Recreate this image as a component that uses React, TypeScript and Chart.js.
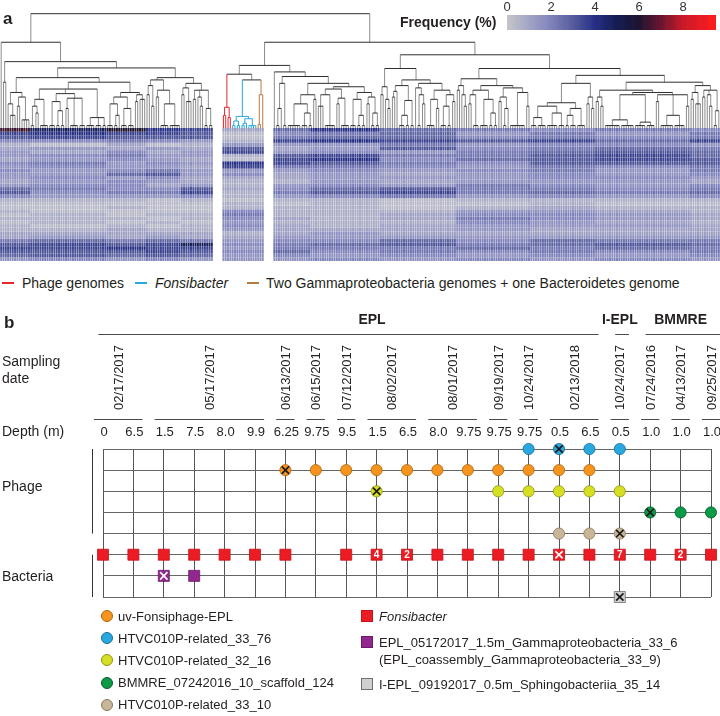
import React, { useEffect, useRef } from 'react';
import { Chart, registerables } from 'chart.js';

Chart.register(...registerables);

const FONT = '"Liberation Sans", Arial, Helvetica, sans-serif';
const INK = '#231f20';

// ================= Panel a : colour scale =================
const colorScaleStops = [0, 1, 2, 3, 4, 5, 6, 7, 8, 9.5];
const colorScaleColors = ['#c6c6ca', '#a3a5c4', '#8083bb', '#565c9c', '#262f85', '#141c52', '#1c1430', '#6a1430', '#c91a28', '#ff1c1c'];
const colorbarTicks = [0, 2, 4, 6, 8];
const colorbarMax = 9.5;
const colorbarStep = 0.1;

// ================= Panel a : dendrogram (merge heights, leaves in order) =================
const redCluster = [19, [12, 1, 1], [10, 1, 1]];
const blueCluster = [11, [7, 2, 2], [9, [5, 2, 1], 4]];
const brownCluster = [30, [4, 1, 1], 1];
const middleBlock = [48, redCluster, [43, blueCluster, brownCluster]];

const leftBlock = [76, 1, [59, [41, 1, 1], [53.5,
  [45,
    [32, [22, 1, [12, 1, 1, 1]], [28, [20, 1, 1], [8, 1, 1, 1, 1]]],
    [41,
      [35, [26, [20, 2, [14, 1, 1]], 4], [31, [24, 3, [16, 2, 2]], [27, [18, 1, 1], 4, 3]], [10, 4, 3, 2]],
      [32, [28, [22, 3, [12, 2, 1]], [18, 3, 3]], [30, [24, 1, 1], [26, 1, 1, 1]]]]],
  [45,
    [43, [38, [30, 1, 1], [20, 1, 1]], [34, [28, 1, 1], [22, 4, 5]]],
    [40, [36, [30, 1, 1], [24, 1, 1, 1]], [34, [26, 1, 1], [28, 1, [20, 1, 1]], [18, 2, 2]]]]]]];

const rightStartBlock = [50, 1, [46, [40, [18, 2, 1], 2],
  [40, [30, [22, 6, [14, 3, 2]], [26, 1, 1]],
    [37, [35, [30, [20, 1, 1, 1], 5], [27, [22, 1, 1], 4]], [32, [26, 3, [12, 2, 2]], [28, [22, 1, 1], [14, 2, 2]]]]]]];
const rightMidBlock = [53, [37, [30, 1, 1], [26, 1, [18, 1, 1]]],
  [43, [38, [33, [28, 1, 1], 1], [25, [12, 3, 2], 2]],
    [40, [36, 1, [30, 2, [22, 1, 1]]], [34, [26, 4, [18, 1, 1]], [30, [20, 3, 2], [24, 1, 1]]]]]];
const rightR1 = [44, [38, [34, 1, 1], [30, 1, [20, 1, 1]]],
  [38, [34, [30, [22, 1, 1], 3], [26, 4, [14, 2, 2]]], [36, [28, [24, 1, 1], [18, 2, 1]], [32, 7, [20, 1, 1]]]]];
const rightR2a = [40, [23, [20, [10, 3, 4], [14, 5, 3]], [18, [12, 2, 3], 4]], [28, [22, 1, 1], [18, 1, 1]]];
const rightR2b1 = [34, [28, [24, 1, 1], [20, 1, 1]],
  [32, [30, [8, 7, 6], [6, 5, 4]], [30, [24, 1, 1], [12, 6, 5], [20, 1, 1]]]];
const rightR2b2 = [38, [32, [26, 1, 1], [22, 1, 1, 1]], [34, [28, 1, 1], [30, 1, [20, 1, 1]], [16, 2, 1]]];
const rightBlockTail = [65, rightMidBlock, [53, rightR1, [47, rightR2a, [41, rightR2b1, rightR2b2]]]];
const dendroRoot = [101, leftBlock, [76, [55.7, middleBlock, rightStartBlock], rightBlockTail]];
const blockStarts = [middleBlock, rightStartBlock];
const blockGap = 4;
const combHeight = 3;
const dendroMaxHeight = 113;
const clusterColors = new Map<any, string>([
  [redCluster, '#e8262d'],
  [blueCluster, '#29a8e0'],
  [brownCluster, '#b57a40'],
]);

// ================= Panel a : heatmap (rows x column groups, base-36 code * 0.4 %) =================
const heatGroupWidths = [[13, 33, 17, 15, 14], [18], [16, 30, 33, 32, 28, 41, 13]];
const heatUnit = 0.4;
const heatRows = [
  'gcfa937a76565', '9a99815674646', '8988816775656', '5565429a98979',
  '2131244464554', '3434383485676', '4353494546787', '4564428966897',
  '3454319a57898', '56454a9865888', '4544396654656', '5456444545646',
  '4478453434545', '4545333444554', '3454322434443', '4553424546545',
  '7655835786656', '8566926896767', '5444524564545', '2221212212222',
  '1111121211211', '1121122212322', '2111152224432', '1212262235543',
  '2221253236543', '1212142225432', '2121253234443', '2232243334333',
  '3333323433333', '3434334444444', '6767645575766', '8989c56786787',
  '99a9946667676', '8889857565656', '7878745454545', '4545444545454',
];

// ================= Panel b : samples =================
const siteNames = ['EPL', 'I-EPL', 'BMMRE'];
const samplesPerSite = [17, 1, 3];
const siteLabelAt = [8.85, 17, 19];
const samplingDates = ['02/17/2017', '05/17/2017', '06/13/2017', '06/15/2017', '07/12/2017', '08/02/2017', '08/01/2017', '09/19/2017', '10/24/2017', '02/13/2018', '10/24/2017', '07/24/2016', '04/13/2017', '09/25/2017'];
const samplesPerDate = [2, 4, 1, 1, 1, 2, 2, 1, 1, 2, 1, 1, 1, 1];
const sampleDepths = ['0', '6.5', '1.5', '7.5', '8.0', '9.9', '6.25', '9.75', '9.5', '1.5', '6.5', '8.0', '9.75', '9.75', '9.75', '0.5', '6.5', '0.5', '1.0', '1.0', '1.0'];

// genome rows (top to bottom) and the samples (column index) where each was found
const htvc3376Found = [14, 15, 16, 17];
const htvc3376Crossed = [15];
const uvFonsiphageFound = [6, 7, 8, 9, 10, 11, 12, 13, 14, 15, 16];
const uvFonsiphageCrossed = [6];
const htvc3216Found = [9, 13, 14, 15, 16, 17];
const htvc3216Crossed = [9];
const bmmreScaffoldFound = [18, 19, 20];
const bmmreScaffoldCrossed = [18];
const htvc3310Found = [15, 16, 17];
const htvc3310Crossed = [17];
const fonsibacterFound = [0, 1, 2, 3, 4, 5, 6, 8, 9, 10, 11, 12, 13, 14, 15, 16, 17, 18, 19, 20];
const fonsibacterCrossed = [15];
const fonsibacterGenomeCounts: [number, string][] = [[9, '4'], [10, '2'], [17, '7'], [19, '2']];
const gammaFound = [2, 3];
const gammaCrossed = [2];
const sphingoFound = [17];
const sphingoCrossed = [17];

const genomeRows = [
  { found: htvc3376Found, crossed: htvc3376Crossed },
  { found: uvFonsiphageFound, crossed: uvFonsiphageCrossed },
  { found: htvc3216Found, crossed: htvc3216Crossed },
  { found: bmmreScaffoldFound, crossed: bmmreScaffoldCrossed },
  { found: htvc3310Found, crossed: htvc3310Crossed },
  { found: fonsibacterFound, crossed: fonsibacterCrossed },
  { found: gammaFound, crossed: gammaCrossed },
  { found: sphingoFound, crossed: sphingoCrossed },
];
const genomeStyles = [
  { fill: '#29a8e0', edge: '#1b6d95', shape: 'circle', cross: '#1a1a1a' },
  { fill: '#f7941d', edge: '#a8650f', shape: 'circle', cross: '#1a1a1a' },
  { fill: '#d7df23', edge: '#8d9218', shape: 'circle', cross: '#1a1a1a' },
  { fill: '#0b9a48', edge: '#075c2b', shape: 'circle', cross: '#1a1a1a' },
  { fill: '#c9b597', edge: '#8a7860', shape: 'circle', cross: '#1a1a1a' },
  { fill: '#ed1c24', edge: '#c4141b', shape: 'rect', cross: '#ffffff' },
  { fill: '#92278f', edge: '#6a1b68', shape: 'rect', cross: '#ffffff' },
  { fill: '#d0d0d0', edge: '#6f6f6f', shape: 'rect', cross: '#1a1a1a' },
];
const phageRowCount = 5;

const phageLegend = [
  { label: 'uv-Fonsiphage-EPL', style: 1 },
  { label: 'HTVC010P-related_33_76', style: 0 },
  { label: 'HTVC010P-related_32_16', style: 2 },
  { label: 'BMMRE_07242016_10_scaffold_124', style: 3 },
  { label: 'HTVC010P-related_33_10', style: 4 },
];
const bacteriaLegend = [
  { lines: ['Fonsibacter'], italic: true, style: 5 },
  { lines: ['EPL_05172017_1.5m_Gammaproteobacteria_33_6', '(EPL_coassembly_Gammaproteobacteria_33_9)'], italic: false, style: 6 },
  { lines: ['I-EPL_09192017_0.5m_Sphingobacteriia_35_14'], italic: false, style: 7 },
];

// ================= helpers =================
function hexRgb(h: string) {
  const n = parseInt(h.slice(1), 16);
  return [(n >> 16) & 255, (n >> 8) & 255, n & 255];
}
function cmap(v: number): string {
  const s = colorScaleStops;
  const c = colorScaleColors;
  if (v <= s[0]) return c[0];
  for (let i = 1; i < s.length; i++) {
    if (v <= s[i]) {
      const t = (v - s[i - 1]) / (s[i] - s[i - 1]);
      const a = hexRgb(c[i - 1]);
      const b = hexRgb(c[i]);
      return `rgb(${Math.round(a[0] + (b[0] - a[0]) * t)},${Math.round(a[1] + (b[1] - a[1]) * t)},${Math.round(a[2] + (b[2] - a[2]) * t)})`;
    }
  }
  return c[c.length - 1];
}

type Seg = { x1: number; y1: number; x2: number; y2: number; color: string | null; kind: 'h' | 'v' };
function layoutTree() {
  const segs: Seg[] = [];
  let next = 0;
  const walk = (node: any, inherited: string | null): { x: number; h: number } => {
    if (typeof node === 'number') {
      if (node === 1) return { x: next++, h: 0 };
      const xs: number[] = [];
      for (let k = 0; k < node; k++) xs.push(next++);
      xs.forEach((x) => segs.push({ x1: x, y1: 0, x2: x, y2: combHeight, color: inherited, kind: 'v' }));
      segs.push({ x1: xs[0], y1: combHeight, x2: xs[xs.length - 1], y2: combHeight, color: inherited, kind: 'h' });
      return { x: (xs[0] + xs[xs.length - 1]) / 2, h: combHeight };
    }
    if (blockStarts.includes(node)) next += blockGap;
    const color = clusterColors.get(node) || inherited;
    const [h, ...kids] = node;
    const res = kids.map((k: any) => walk(k, color));
    kids.forEach((k: any, i: number) => {
      const legColor = (typeof k !== 'number' && clusterColors.get(k)) || color;
      segs.push({ x1: res[i].x, y1: res[i].h, x2: res[i].x, y2: h, color: legColor, kind: 'v' });
    });
    segs.push({ x1: res[0].x, y1: h, x2: res[res.length - 1].x, y2: h, color, kind: 'h' });
    return { x: (res[0].x + res[res.length - 1].x) / 2, h };
  };
  walk(dendroRoot, null);
  return { segs, leafCount: next };
}

function heatColumns() {
  const cols: number[] = [];
  let g = 0;
  heatGroupWidths.forEach((block, bi) => {
    if (bi > 0) for (let k = 0; k < blockGap; k++) cols.push(-1);
    block.forEach((w) => {
      for (let k = 0; k < w; k++) cols.push(g);
      g++;
    });
  });
  return cols;
}

const baseOptions: any = {
  animation: false,
  responsive: false,
  events: [],
  plugins: { legend: { display: false }, tooltip: { enabled: false } },
};

// ================= components =================
function Dendrogram() {
  const ref = useRef<HTMLCanvasElement>(null);
  useEffect(() => {
    const { segs, leafCount } = layoutTree();
    const groups = new Map<string, any[]>();
    segs.forEach((s) => {
      const key = s.kind + '|' + (s.color || '');
      if (!groups.has(key)) groups.set(key, []);
      groups.get(key)!.push({ x: s.x1, y: s.y1 }, { x: s.x2, y: s.y2 }, { x: NaN, y: NaN });
    });
    const datasets = [...groups.entries()].map(([key, data]) => {
      const [kind, color] = key.split('|');
      return {
        data,
        showLine: true,
        spanGaps: false,
        borderColor: color || (kind === 'h' ? '#2e2e2e' : '#8c8c8c'),
        borderWidth: 1,
        pointRadius: 0,
        clip: false,
        order: color ? 0 : kind === 'h' ? 1 : 2,
      };
    });
    const chart = new Chart(ref.current!, {
      type: 'scatter',
      data: { datasets } as any,
      options: {
        ...baseOptions,
        layout: { padding: 0 },
        scales: {
          x: { type: 'linear', display: false, min: -0.5, max: leafCount - 0.5 },
          y: { type: 'linear', display: false, min: 0, max: dendroMaxHeight },
        },
      },
    });
    return () => chart.destroy();
  }, []);
  return <canvas ref={ref} width={720} height={129} style={{ position: 'absolute', left: 0, top: 0 }} />;
}

function Heatmap() {
  const ref = useRef<HTMLCanvasElement>(null);
  useEffect(() => {
    const cols = heatColumns();
    const labels = cols.map((_, i) => String(i));
    const datasets = heatRows.map((row) => ({
      data: cols.map((g) => (g < 0 ? null : 1)),
      backgroundColor: cols.map((g) => (g < 0 ? 'rgba(0,0,0,0)' : cmap(parseInt(row[g], 36) * heatUnit))),
      borderWidth: 0,
      barPercentage: 0.86,
      categoryPercentage: 1,
      inflateAmount: 0,
      stack: 'heat',
    }));
    const chart = new Chart(ref.current!, {
      type: 'bar',
      data: { labels, datasets } as any,
      options: {
        ...baseOptions,
        layout: { padding: 0 },
        scales: {
          x: { display: false, stacked: true },
          y: { display: false, stacked: true, min: 0, max: heatRows.length, reverse: true },
        },
      },
    });
    return () => chart.destroy();
  }, []);
  return <canvas ref={ref} width={720} height={133} style={{ position: 'absolute', left: 0, top: 128 }} />;
}

function Colorbar() {
  const ref = useRef<HTMLCanvasElement>(null);
  useEffect(() => {
    const xs: number[] = [];
    for (let k = 0; (k + 0.5) * colorbarStep < colorbarMax; k++) xs.push((k + 0.5) * colorbarStep);
    const chart = new Chart(ref.current!, {
      type: 'bar',
      data: {
        datasets: [{
          data: xs.map((x) => ({ x, y: 1 })),
          backgroundColor: xs.map(cmap),
          borderWidth: 0,
          barPercentage: 1,
          categoryPercentage: 1,
        }],
      } as any,
      options: {
        ...baseOptions,
        layout: { padding: { left: 10, right: 4, top: 0, bottom: 0 } },
        scales: {
          x: {
            type: 'linear', position: 'top', min: 0, max: colorbarMax, offset: false,
            afterBuildTicks: (s: any) => { s.ticks = colorbarTicks.map((v) => ({ value: v })); },
            ticks: { padding: 0, color: '#333', font: { family: FONT, size: 13 } },
            grid: { display: false, drawTicks: false, offset: false }, border: { display: false },
          },
          y: { display: false, min: 0, max: 1 },
        },
      },
    });
    return () => chart.destroy();
  }, []);
  return <canvas ref={ref} width={223} height={30} style={{ position: 'absolute', left: 497, top: 0 }} />;
}

function PresenceGrid() {
  const ref = useRef<HTMLCanvasElement>(null);
  useEffect(() => {
    const datasets: any[] = [];
    genomeRows.forEach((g, row) => {
      const st = genomeStyles[row];
      datasets.push({
        data: g.found.map((c) => ({ x: c, y: row })),
        pointStyle: st.shape,
        pointRadius: st.shape === 'rect' ? 7.8 : 5.6,
        backgroundColor: st.fill,
        borderColor: st.edge,
        borderWidth: 0.8,
        clip: false,
        order: 2,
      });
      datasets.push({
        data: g.crossed.map((c) => ({ x: c, y: row })),
        pointStyle: 'crossRot',
        pointRadius: 5.2,
        borderColor: st.cross,
        borderWidth: 1.7,
        clip: false,
        order: 1,
      });
    });
    const fonsRow = 5;
    const headerPlugin = {
      id: 'headers',
      afterDraw(chart: any) {
        const ctx = chart.ctx;
        const xs = chart.scales.x;
        const ys = chart.scales.y;
        const top = chart.chartArea.top;
        const px = (v: number) => xs.getPixelForValue(v);
        ctx.save();
        ctx.fillStyle = INK;
        ctx.strokeStyle = '#4a4a4a';
        ctx.lineWidth = 1;
        let start = 0;
        siteNames.forEach((name, i) => {
          const end = start + samplesPerSite[i] - 1;
          ctx.beginPath();
          ctx.moveTo(px(start - 0.15), top - 114.5);
          ctx.lineTo(px(end + 0.3), top - 114.5);
          ctx.stroke();
          ctx.font = `bold 14px ${FONT}`;
          ctx.textAlign = 'center';
          ctx.textBaseline = 'middle';
          ctx.fillText(name, px(siteLabelAt[i]), top - 129);
          start = end + 1;
        });
        start = 0;
        samplingDates.forEach((d, i) => {
          const end = start + samplesPerDate[i] - 1;
          ctx.beginPath();
          ctx.moveTo(px(start - 0.3), top - 29.5);
          ctx.lineTo(px(end + 0.3), top - 29.5);
          ctx.stroke();
          ctx.save();
          ctx.translate(px((start + end) / 2) + 1, top - 39);
          ctx.rotate(-Math.PI / 2);
          ctx.font = `13px ${FONT}`;
          ctx.textAlign = 'left';
          ctx.textBaseline = 'middle';
          ctx.fillText(d, 0, 0);
          ctx.restore();
          start = end + 1;
        });
        ctx.font = `13px ${FONT}`;
        ctx.textAlign = 'center';
        ctx.textBaseline = 'middle';
        sampleDepths.forEach((d, i) => ctx.fillText(d, px(i) + 1, top - 17));
        ctx.font = `14px ${FONT}`;
        ctx.textAlign = 'left';
        ctx.fillText('Sampling', 2, top - 87);
        ctx.fillText('date', 2, top - 70);
        ctx.fillText('Depth (m)', 2, top - 17);
        ctx.fillText('Phage', 2, ys.getPixelForValue((phageRowCount - 1) / 2 - 0.2));
        ctx.fillText('Bacteria', 2, ys.getPixelForValue((phageRowCount + genomeRows.length - 1) / 2 + 0.05));
        const bx = chart.chartArea.left - 10.5;
        ctx.strokeStyle = '#333';
        ctx.beginPath();
        ctx.moveTo(bx, ys.getPixelForValue(0));
        ctx.lineTo(bx, ys.getPixelForValue(phageRowCount - 1));
        ctx.moveTo(bx, ys.getPixelForValue(phageRowCount));
        ctx.lineTo(bx, ys.getPixelForValue(genomeRows.length - 1));
        ctx.stroke();
        ctx.restore();
      },
      afterDatasetsDraw(chart: any) {
        const ctx = chart.ctx;
        const xs = chart.scales.x;
        const ys = chart.scales.y;
        ctx.save();
        ctx.fillStyle = '#ffffff';
        ctx.font = `bold 10px ${FONT}`;
        ctx.textAlign = 'center';
        ctx.textBaseline = 'middle';
        fonsibacterGenomeCounts.forEach(([c, t]) => ctx.fillText(t, xs.getPixelForValue(c), ys.getPixelForValue(fonsRow) + 0.5));
        ctx.restore();
      },
    };
    const chart = new Chart(ref.current!, {
      type: 'scatter',
      data: { datasets },
      options: {
        ...baseOptions,
        layout: { padding: { left: 103, right: 9, top: 149, bottom: 15 } },
        scales: {
          x: {
            type: 'linear', min: 0, max: sampleDepths.length - 1,
            ticks: { display: false, stepSize: 1 },
            grid: { color: '#555', lineWidth: 1, drawTicks: false },
            border: { display: false },
            afterFit: (s: any) => { s.height = 0; },
          },
          y: {
            type: 'linear', min: 0, max: genomeRows.length - 1, reverse: true,
            ticks: { display: false, stepSize: 1 },
            grid: { color: '#666', lineWidth: 1, drawTicks: false },
            border: { display: false },
            afterFit: (s: any) => { s.width = 0; },
          },
        },
      },
      plugins: [headerPlugin],
    } as any);
    return () => chart.destroy();
  }, []);
  return <canvas ref={ref} width={720} height={312} style={{ position: 'absolute', left: 0, top: 300 }} />;
}

function Txt(props: { x: number; y: number; size?: number; bold?: boolean; italic?: boolean; children: any }) {
  const size = props.size || 14;
  const lh = size + 2;
  return (
    <div style={{
      position: 'absolute', left: props.x, top: props.y - lh / 2, fontSize: size, lineHeight: `${lh}px`,
      fontWeight: props.bold ? 700 : 400, fontStyle: props.italic ? 'italic' : 'normal', whiteSpace: 'nowrap', color: INK,
    }}>{props.children}</div>
  );
}

function Dash(props: { x: number; y: number; color: string }) {
  return <div style={{ position: 'absolute', left: props.x, top: props.y - 1, width: 12, height: 2, background: props.color }} />;
}

export default function App() {
  return (
    <div style={{ position: 'absolute', left: 0, top: 0, width: 720, height: 716, background: '#fff', fontFamily: FONT, overflow: 'hidden' }}>
      <Dendrogram />
      <Heatmap />
      <Colorbar />
      <Txt x={3} y={18} size={17} bold>a</Txt>
      <Txt x={400} y={22} size={14} bold>Frequency (%)</Txt>
      <Dash x={2} y={283} color={clusterColors.get(redCluster)!} />
      <Txt x={22} y={283}>Phage genomes</Txt>
      <Dash x={135} y={283} color={clusterColors.get(blueCluster)!} />
      <Txt x={155} y={283} italic>Fonsibacter</Txt>
      <Dash x={247} y={283} color={clusterColors.get(brownCluster)!} />
      <Txt x={266} y={283}>Two Gammaproteobacteria genomes + one Bacteroidetes genome</Txt>
      <PresenceGrid />
      <Txt x={4} y={322} size={17} bold>b</Txt>
      {phageLegend.map((item, i) => {
        const st = genomeStyles[item.style];
        const y = 616 + i * 22.2;
        return (
          <React.Fragment key={item.label}>
            <div style={{ position: 'absolute', left: 101, top: y - 6, width: 10, height: 10, borderRadius: '50%', background: st.fill, border: `1px solid ${st.edge}` }} />
            <Txt x={118} y={y} size={13}>{item.label}</Txt>
          </React.Fragment>
        );
      })}
      {bacteriaLegend.map((item, i) => {
        const st = genomeStyles[item.style];
        const y = [616, 642, 684][i];
        return (
          <React.Fragment key={item.lines[0]}>
            <div style={{ position: 'absolute', left: 361, top: y - 6, width: 10, height: 10, background: st.fill, border: `1px solid ${st.edge}` }} />
            {item.lines.map((l, k) => (
              <Txt key={l} x={379} y={y + k * 17} size={13} italic={item.italic}>{l}</Txt>
            ))}
          </React.Fragment>
        );
      })}
    </div>
  );
}
